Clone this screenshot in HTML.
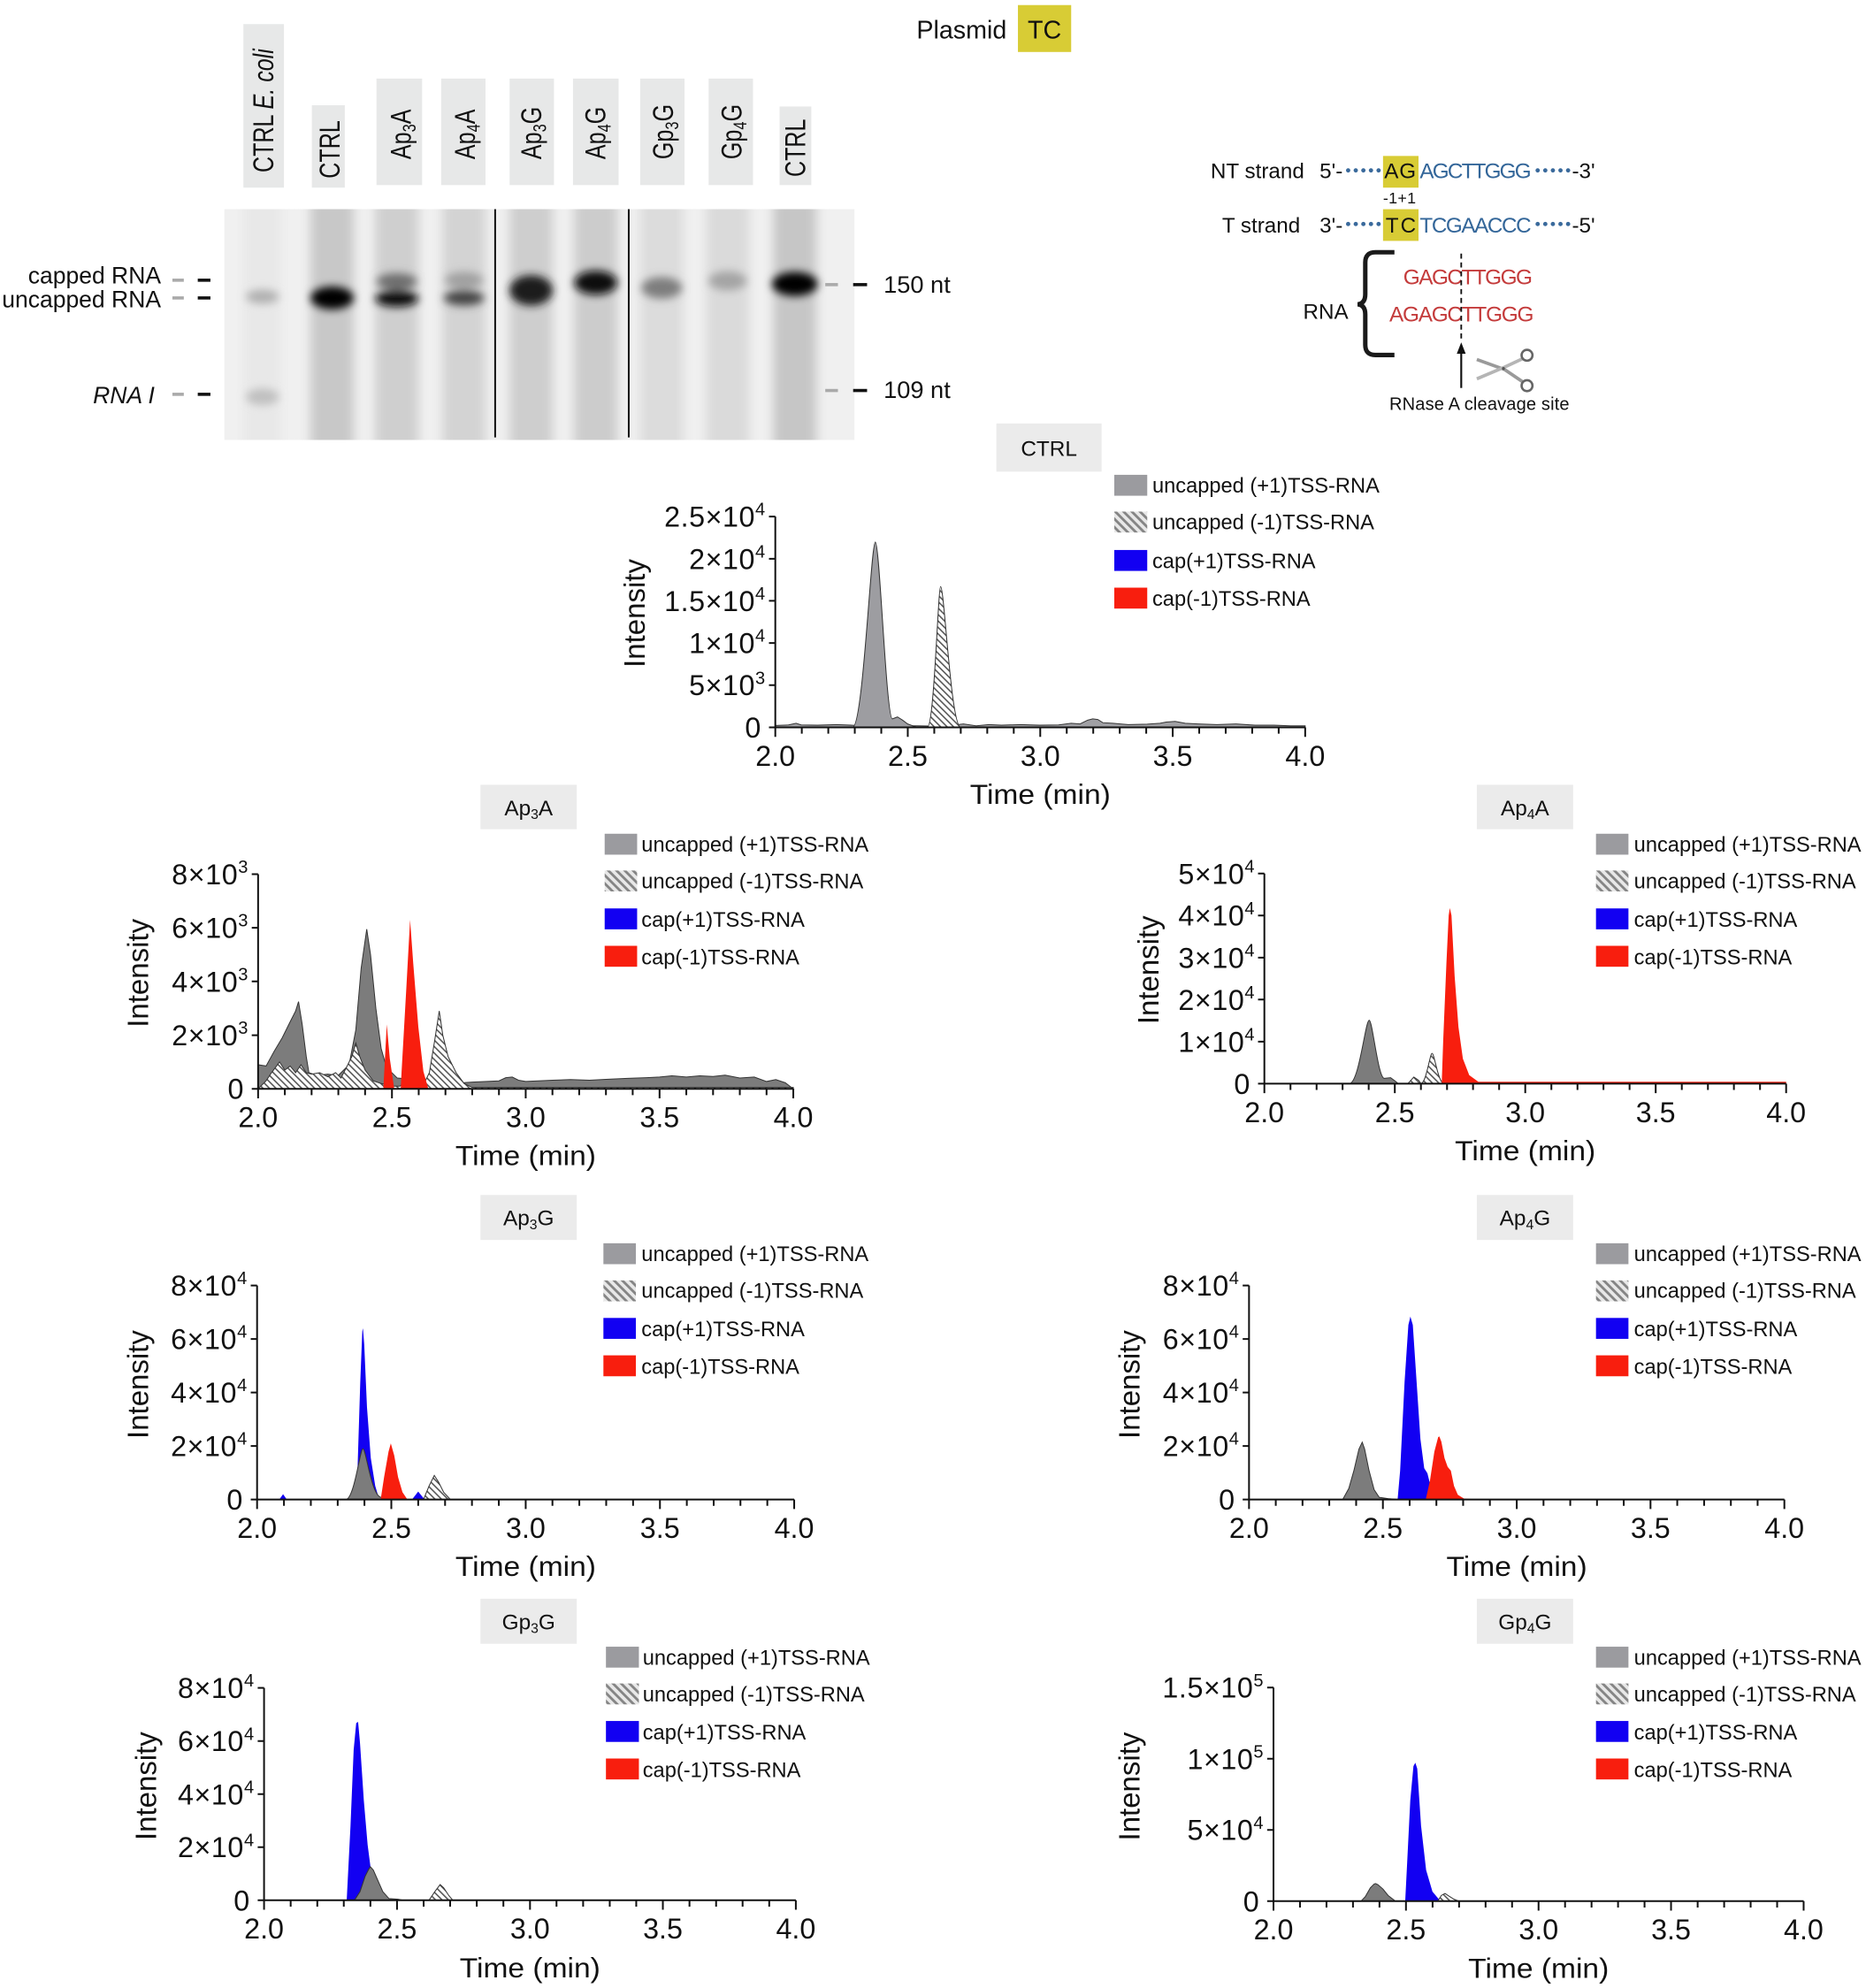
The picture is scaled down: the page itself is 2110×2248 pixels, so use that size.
<!DOCTYPE html>
<html><head><meta charset="utf-8">
<style>
html,body{margin:0;padding:0;background:#fff}
svg{display:block}
text{font-family:"Liberation Sans",Arial,sans-serif;fill:#111}
.yl{font-size:22.5px;text-anchor:end;letter-spacing:0.4px}
.xl{font-size:22.5px;text-anchor:middle}
.tt{font-size:22px;text-anchor:middle}
.it{font-size:23px;text-anchor:middle}
.lg{font-size:16.5px}
.ll{font-size:17.5px}
.ax{stroke:#111;stroke-width:1.4;fill:none}
.pk{stroke:#333;stroke-width:0.7}
.bl{fill:#1200f2}
.rd{fill:#f81e0e}
.gy{fill:#7c7c7c}
.ht{fill:url(#hatch)}
</style></head><body>
<svg width="2110" height="2248" viewBox="0 0 1472 1568" preserveAspectRatio="none" xmlns="http://www.w3.org/2000/svg">
<defs>
<pattern id="hatch" patternUnits="userSpaceOnUse" width="3.6" height="3.6" patternTransform="rotate(-45)"><rect width="3.6" height="3.6" fill="#fff"/><rect width="1.1" height="3.6" fill="#555"/></pattern>
<pattern id="hatchL" patternUnits="userSpaceOnUse" width="4.6" height="4.6" patternTransform="rotate(-45)"><rect width="4.6" height="4.6" fill="#e8e8e8"/><rect width="2" height="4.6" fill="#858585"/></pattern>
<filter id="b3" x="-50%" y="-50%" width="200%" height="200%"><feGaussianBlur stdDeviation="4"/></filter>
<filter id="b2" x="-50%" y="-50%" width="200%" height="200%"><feGaussianBlur stdDeviation="3.4"/></filter>
<clipPath id="gel"><rect x="177" y="165" width="497" height="182"/></clipPath>
</defs>

<!-- ===== Top: Plasmid TC ===== -->
<text x="723" y="30.5" font-size="20">Plasmid</text>
<rect x="803" y="4" width="42" height="37" fill="#d8cc35"/>
<text x="824" y="30.5" font-size="20" text-anchor="middle">TC</text>

<!-- ===== Lane labels ===== -->
<g fill="#e7e8e8">
<rect x="192" y="19" width="32" height="129"/>
<rect x="246" y="83" width="26" height="65"/>
<rect x="297" y="62" width="36" height="84"/>
<rect x="348" y="62" width="35" height="84"/>
<rect x="402" y="62" width="35" height="84"/>
<rect x="452" y="62" width="36" height="84"/>
<rect x="505" y="62" width="35" height="84"/>
<rect x="559" y="62" width="35" height="84"/>
<rect x="615" y="84" width="25" height="62"/>
</g>
<text class="ll" transform="translate(215.5,136) rotate(-90) scale(1,1.3)">CTRL <tspan font-style="italic">E. coli</tspan></text>
<text class="ll" transform="translate(268,140.7) rotate(-90) scale(1,1.3)">CTRL</text>
<text class="ll" transform="translate(324,125.6) rotate(-90) scale(1,1.3)">Ap<tspan font-size="11.5" dy="3">3</tspan><tspan dy="-3">A</tspan></text>
<text class="ll" transform="translate(374.5,125.6) rotate(-90) scale(1,1.3)">Ap<tspan font-size="11.5" dy="3">4</tspan><tspan dy="-3">A</tspan></text>
<text class="ll" transform="translate(426.8,125.6) rotate(-90) scale(1,1.3)">Ap<tspan font-size="11.5" dy="3">3</tspan><tspan dy="-3">G</tspan></text>
<text class="ll" transform="translate(477.7,125.6) rotate(-90) scale(1,1.3)">Ap<tspan font-size="11.5" dy="3">4</tspan><tspan dy="-3">G</tspan></text>
<text class="ll" transform="translate(531,125.6) rotate(-90) scale(1,1.3)">Gp<tspan font-size="11.5" dy="3">3</tspan><tspan dy="-3">G</tspan></text>
<text class="ll" transform="translate(585,125.6) rotate(-90) scale(1,1.3)">Gp<tspan font-size="11.5" dy="3">4</tspan><tspan dy="-3">G</tspan></text>
<text class="ll" transform="translate(635.3,139.5) rotate(-90) scale(1,1.3)">CTRL</text>

<!-- ===== Gel ===== -->
<g clip-path="url(#gel)">
<rect x="170" y="160" width="510" height="195" fill="#f0f0f0"/>
<g filter="url(#b3)">
<rect x="192" y="150" width="30" height="210" fill="#e8e8e8"/>
<rect x="245" y="150" width="34" height="210" fill="#c8c8c8"/>
<rect x="296" y="150" width="34" height="210" fill="#cfcfcf"/>
<rect x="349" y="150" width="34" height="210" fill="#d3d3d3"/>
<rect x="402" y="150" width="34" height="210" fill="#cecece"/>
<rect x="453" y="150" width="34" height="210" fill="#cccccc"/>
<rect x="505" y="150" width="34" height="210" fill="#dcdcdc"/>
<rect x="557" y="150" width="34" height="210" fill="#dadada"/>
<rect x="610" y="150" width="34" height="210" fill="#c6c6c6"/>
</g>
<g filter="url(#b2)">
<ellipse cx="207" cy="234" rx="13" ry="5.5" fill="#b0b0b0"/>
<ellipse cx="207" cy="313" rx="13" ry="6.5" fill="#c0c0c0"/>
<ellipse cx="262" cy="235" rx="17" ry="9" fill="#000"/>
<ellipse cx="313" cy="222" rx="16" ry="6.5" fill="#6e6e6e"/>
<ellipse cx="313" cy="235.5" rx="17" ry="6.5" fill="#0d0d0d"/>
<ellipse cx="366" cy="221" rx="15" ry="6.5" fill="#a0a0a0"/>
<ellipse cx="366" cy="235" rx="16" ry="6" fill="#444"/>
<ellipse cx="419" cy="229" rx="17" ry="12" fill="#1c1c1c"/>
<ellipse cx="470" cy="223" rx="17" ry="9.5" fill="#0a0a0a"/>
<ellipse cx="522" cy="227" rx="16" ry="8.5" fill="#7e7e7e"/>
<ellipse cx="574" cy="221.5" rx="15" ry="7.5" fill="#a4a4a4"/>
<ellipse cx="627" cy="224" rx="18" ry="9.5" fill="#000"/>
</g>
</g>
<line x1="390.6" y1="165" x2="390.6" y2="345" stroke="#111" stroke-width="1.4"/>
<line x1="496" y1="165" x2="496" y2="345" stroke="#111" stroke-width="1.4"/>

<!-- gel side labels -->
<text x="127" y="223.5" font-size="18.5" text-anchor="end">capped RNA</text>
<text x="127" y="242.5" font-size="18.5" text-anchor="end">uncapped RNA</text>
<text x="122" y="318" font-size="18.5" text-anchor="end" font-style="italic">RNA I</text>
<g stroke-width="2.5">
<line x1="136" y1="221" x2="145" y2="221" stroke="#aaa"/><line x1="156" y1="221" x2="166" y2="221" stroke="#111"/>
<line x1="136" y1="235" x2="145" y2="235" stroke="#aaa"/><line x1="156" y1="235" x2="166" y2="235" stroke="#111"/>
<line x1="136" y1="311" x2="145" y2="311" stroke="#aaa"/><line x1="156" y1="311" x2="166" y2="311" stroke="#111"/>
<line x1="651" y1="224.5" x2="661" y2="224.5" stroke="#aaa"/><line x1="673" y1="224.5" x2="684" y2="224.5" stroke="#111"/>
<line x1="651" y1="308" x2="661" y2="308" stroke="#aaa"/><line x1="673" y1="308" x2="684" y2="308" stroke="#111"/>
</g>
<text x="697" y="231" font-size="19">150 nt</text>
<text x="697" y="314" font-size="19">109 nt</text>

<!-- ===== Schematic ===== -->
<text x="955" y="140.5" font-size="16.9">NT strand</text>
<text x="1041" y="140.5" font-size="16.9">5'-</text>
<g fill="#3a6a9c">
<circle cx="1063.5" cy="134.4" r="1.7"/><circle cx="1069.5" cy="134.4" r="1.7"/><circle cx="1075.5" cy="134.4" r="1.7"/><circle cx="1081.5" cy="134.4" r="1.7"/><circle cx="1087.5" cy="134.4" r="1.7"/>
<circle cx="1213" cy="134.4" r="1.7"/><circle cx="1219" cy="134.4" r="1.7"/><circle cx="1225" cy="134.4" r="1.7"/><circle cx="1231" cy="134.4" r="1.7"/><circle cx="1237" cy="134.4" r="1.7"/>
<circle cx="1063.5" cy="176.7" r="1.7"/><circle cx="1069.5" cy="176.7" r="1.7"/><circle cx="1075.5" cy="176.7" r="1.7"/><circle cx="1081.5" cy="176.7" r="1.7"/><circle cx="1087.5" cy="176.7" r="1.7"/>
<circle cx="1213" cy="176.7" r="1.7"/><circle cx="1219" cy="176.7" r="1.7"/><circle cx="1225" cy="176.7" r="1.7"/><circle cx="1231" cy="176.7" r="1.7"/><circle cx="1237" cy="176.7" r="1.7"/>
</g>
<rect x="1091" y="123" width="28" height="25" fill="#d8cc35"/>
<text x="1092" y="140.5" font-size="16.9" textLength="25">AG</text>
<text x="1120" y="140.5" font-size="16.9" style="fill:#336699" textLength="88">AGCTTGGG</text>
<text x="1240" y="140.5" font-size="16.9">-3'</text>
<text x="1091" y="160.5" font-size="12.5" textLength="26">-1+1</text>
<text x="964" y="183.5" font-size="16.9">T strand</text>
<text x="1041" y="183.5" font-size="16.9">3'-</text>
<rect x="1091" y="165" width="28" height="25" fill="#d8cc35"/>
<text x="1093" y="183.5" font-size="16.9" textLength="24">TC</text>
<text x="1120" y="183.5" font-size="16.9" style="fill:#336699" textLength="88">TCGAACCC</text>
<text x="1240" y="183.5" font-size="16.9">-5'</text>
<path d="M1100,199 L1085,199 Q1077,199 1077,207 L1077,232 Q1077,239.5 1071,240 Q1077,240.5 1077,248 L1077,272 Q1077,280 1085,280 L1100,280" fill="none" stroke="#1a1a1a" stroke-width="3.5"/>
<text x="1028" y="251.5" font-size="16.9">RNA</text>
<text x="1107" y="224.4" font-size="17" style="fill:#c43b3b" textLength="102">GAGCTTGGG</text>
<text x="1096" y="253.5" font-size="17" style="fill:#c43b3b" textLength="114">AGAGCTTGGG</text>
<line x1="1152.7" y1="200" x2="1152.7" y2="268" stroke="#111" stroke-width="1.3" stroke-dasharray="4 3"/>
<line x1="1152.7" y1="306" x2="1152.7" y2="277" stroke="#111" stroke-width="1.5"/>
<polygon points="1152.7,270 1149.2,279 1156.2,279" fill="#111"/>
<g>
<path d="M1165,283.5 L1187,291.5 L1201,301" stroke="#9a9a9a" stroke-width="2.6" fill="none"/>
<path d="M1165,298.8 L1187,289.5 L1201,283" stroke="#b5b5b5" stroke-width="2.6" fill="none"/>
<circle cx="1204.6" cy="280.2" r="4.3" fill="none" stroke="#666" stroke-width="1.8"/>
<circle cx="1204.6" cy="304.2" r="4.3" fill="none" stroke="#666" stroke-width="1.8"/>
<circle cx="1186" cy="290.7" r="1.2" fill="#555"/>
</g>
<text x="1096" y="323.2" font-size="14" textLength="142">RNase A cleavage site</text>

<!-- ===================== CTRL chart ===================== -->
<rect x="786" y="334" width="83" height="38" fill="#ebebeb"/>
<text x="827.5" y="359.5" font-size="17" text-anchor="middle">CTRL</text>
<rect x="879" y="374.5" width="26" height="16.5" fill="#9b9b9f"/>
<rect x="879" y="403.5" width="26" height="16.5" fill="url(#hatchL)"/>
<rect x="879" y="433.8" width="26" height="16.5" fill="#1200f2"/>
<rect x="879" y="463.5" width="26" height="16.5" fill="#f81e0e"/>
<text class="lg" x="909" y="388.5">uncapped (+1)TSS-RNA</text>
<text class="lg" x="909" y="417.6">uncapped (-1)TSS-RNA</text>
<text class="lg" x="909" y="448">cap(+1)TSS-RNA</text>
<text class="lg" x="909" y="477.7">cap(-1)TSS-RNA</text>
<path class="pk" fill="#a0a0a4" d="M611.6,573.7 L611.6,572.2 L622,571.8 L628,570.5 L632,571.8 L645,572 L660,571.5 L672,572 L724,572.5 L745,572.8 L760,571 L770,572.5 L780,571.5 L790,572 L805,571.5 L820,572 L835,571.8 L845,570.5 L852,571 L858,568 L862,567 L866,567.5 L870,570 L878,570.5 L890,571.5 L905,571.2 L915,570.5 L920,569.5 L927,569 L935,570.5 L945,571 L960,571.5 L975,571 L990,572 L1005,572 L1018,572.5 L1029.6,572.5 L1029.6,573.7 Z"/>
<path class="pk" fill="#9d9da1" d="M672.5,573.7 C681,573.7 687,427.5 690.5,427.5 C694,427.5 699,567 704,567 L708,565.5 L712,568 L716,571 L720,572.5 L724,573.7 Z"/>
<path class="pk ht" d="M731.5,573.7 C737,573.7 740,462.6 742,462.6 C745,462.6 750,573.7 758,573.7 Z"/>
<path class="ax" d="M611.6 407.4V581.2M606.6 573.7H1029.6M606.6 407.4H611.6M606.6 440.7H611.6M606.6 473.9H611.6M606.6 507.2H611.6M606.6 540.4H611.6M716.1 573.7v7.5M820.6 573.7v7.5M925.1 573.7v7.5M1029.6 573.7v7.5M632.5 573.7v5M653.4 573.7v5M674.3 573.7v5M695.2 573.7v5M737 573.7v5M757.9 573.7v5M778.8 573.7v5M799.7 573.7v5M841.5 573.7v5M862.4 573.7v5M883.3 573.7v5M904.2 573.7v5M946 573.7v5M966.9 573.7v5M987.8 573.7v5M1008.7 573.7v5"/>
<text class="yl" x="600.6" y="581.7">0</text>
<text class="yl" x="604" y="548.4">5×10<tspan dy="-9" font-size="14">3</tspan></text>
<text class="yl" x="604" y="515.2">1×10<tspan dy="-9" font-size="14">4</tspan></text>
<text class="yl" x="604" y="481.9">1.5×10<tspan dy="-9" font-size="14">4</tspan></text>
<text class="yl" x="604" y="448.7">2×10<tspan dy="-9" font-size="14">4</tspan></text>
<text class="yl" x="604" y="415.4">2.5×10<tspan dy="-9" font-size="14">4</tspan></text>
<text class="xl" x="611.6" y="604">2.0</text>
<text class="xl" x="716.1" y="604">2.5</text>
<text class="xl" x="820.6" y="604">3.0</text>
<text class="xl" x="925.1" y="604">3.5</text>
<text class="xl" x="1029.6" y="604">4.0</text>
<text class="tt" x="820.6" y="634" textLength="111" lengthAdjust="spacingAndGlyphs">Time (min)</text>
<text class="it" transform="translate(508.5,483.7) rotate(-90)">Intensity</text>

<!-- ===================== Ap3A chart ===================== -->
<rect x="379" y="619" width="76" height="35" fill="#ebebeb"/>
<text x="417" y="643" font-size="17" text-anchor="middle">Ap<tspan font-size="11" dy="3">3</tspan><tspan dy="-3">A</tspan></text>
<rect x="477" y="657.6" width="25.6" height="16.5" fill="#9b9b9f"/>
<rect x="477" y="686.6" width="25.6" height="16.5" fill="url(#hatchL)"/>
<rect x="477" y="716.5" width="25.6" height="16.5" fill="#1200f2"/>
<rect x="477" y="746" width="25.6" height="16.5" fill="#f81e0e"/>
<text class="lg" x="506" y="671.8">uncapped (+1)TSS-RNA</text>
<text class="lg" x="506" y="700.8">uncapped (-1)TSS-RNA</text>
<text class="lg" x="506" y="731">cap(+1)TSS-RNA</text>
<text class="lg" x="506" y="760.5">cap(-1)TSS-RNA</text>
<path class="pk gy" d="M203.6,858.8 L203.6,839.8 L209.9,840.8 L216.3,829.2 L222.6,818.6 L228.9,805.9 L233.2,797.4 L235.5,790 L238.4,808 L241.6,833.4 L243.7,846.1 L250,848.2 L258.5,847.2 L266.9,848.2 L275.4,839.8 L280.7,812.2 L284.9,763.6 L289.3,732.9 L292.3,753 L296.5,795.3 L300.7,827.1 L304.9,841.9 L313.4,850.3 L326,851.4 L338.7,852.5 L355.6,854.6 L372.5,853.5 L393.6,852.5 L399,850 L404.1,849.5 L409,852 L414.7,853 L435.8,852 L450,851.5 L465,852 L478,851.3 L495,850.5 L510,850 L520.3,849.5 L530,848.5 L541.4,849.5 L552,848.5 L562.5,849 L572,848 L583.6,850.3 L595,849.5 L604.7,853 L612,851.5 L619.5,854 L625.8,858.8 Z"/>
<path class="pk ht" d="M203.6,858.8 L209.9,852.5 L214.2,846.1 L220.5,837.6 L224.7,844 L228.9,840.8 L233.2,846.1 L237.4,839.8 L241.6,846.1 L245.8,847.2 L252.2,846.1 L258.5,849.3 L264.8,846.1 L269,850.3 L273.3,841.9 L277.5,833.4 L280.7,822.8 L283.8,833.4 L288,844 L294.4,852.5 L300.7,854.6 L309.2,856.7 L315.5,856.7 L321.8,851.4 L328.1,852.5 L334.5,854.6 L338.7,846.1 L342.9,820.7 L346.5,797.4 L349.3,816.5 L353.5,833.4 L359.8,846.1 L366.1,854.6 L372.5,857.7 L625.8,857.7 L625.8,858.8 Z"/>
<path class="rd" d="M302.4,858.8 L305.1,808 L307.5,835 L311,858.8 Z"/>
<path class="rd" d="M316.1,858.8 L316.8,845 L320.5,780 L323.5,725.5 L326,760 L330,810 L334,845 L337.9,858.8 Z"/>
<path class="ax" d="M203.6 689.5V866.3M198.6 858.8H625.8M198.6 689.5H203.6M198.6 731.8H203.6M198.6 774.1H203.6M198.6 816.5H203.6M309.2 858.8v7.5M414.7 858.8v7.5M520.3 858.8v7.5M625.8 858.8v7.5M224.7 858.8v5M245.8 858.8v5M266.9 858.8v5M288 858.8v5M330.3 858.8v5M351.4 858.8v5M372.5 858.8v5M393.6 858.8v5M435.8 858.8v5M456.9 858.8v5M478 858.8v5M499.1 858.8v5M541.4 858.8v5M562.5 858.8v5M583.6 858.8v5M604.7 858.8v5"/>
<text class="yl" x="192.6" y="866.8">0</text>
<text class="yl" x="196" y="824.5">2×10<tspan dy="-9" font-size="14">3</tspan></text>
<text class="yl" x="196" y="782.1">4×10<tspan dy="-9" font-size="14">3</tspan></text>
<text class="yl" x="196" y="739.8">6×10<tspan dy="-9" font-size="14">3</tspan></text>
<text class="yl" x="196" y="697.5">8×10<tspan dy="-9" font-size="14">3</tspan></text>
<text class="xl" x="203.6" y="889">2.0</text>
<text class="xl" x="309.2" y="889">2.5</text>
<text class="xl" x="414.7" y="889">3.0</text>
<text class="xl" x="520.3" y="889">3.5</text>
<text class="xl" x="625.8" y="889">4.0</text>
<text class="tt" x="414.7" y="919" textLength="111" lengthAdjust="spacingAndGlyphs">Time (min)</text>
<text class="it" transform="translate(117,767.5) rotate(-90)">Intensity</text>

<!-- ===================== Ap4A chart ===================== -->
<rect x="1165" y="619" width="76" height="35" fill="#ebebeb"/>
<text x="1203" y="643" font-size="17" text-anchor="middle">Ap<tspan font-size="11" dy="3">4</tspan><tspan dy="-3">A</tspan></text>
<rect x="1259" y="657.6" width="25.6" height="16.5" fill="#9b9b9f"/>
<rect x="1259" y="686.6" width="25.6" height="16.5" fill="url(#hatchL)"/>
<rect x="1259" y="716.5" width="25.6" height="16.5" fill="#1200f2"/>
<rect x="1259" y="746" width="25.6" height="16.5" fill="#f81e0e"/>
<text class="lg" x="1289" y="671.8">uncapped (+1)TSS-RNA</text>
<text class="lg" x="1289" y="700.8">uncapped (-1)TSS-RNA</text>
<text class="lg" x="1289" y="731">cap(+1)TSS-RNA</text>
<text class="lg" x="1289" y="760.5">cap(-1)TSS-RNA</text>
<path class="pk gy" d="M1064.3,854.7 C1072.2,854.7 1077,804.7 1080.1,804.7 C1082.7,804.7 1087,850 1092,850.5 L1097,850 L1101,853 L1103,854.7 Z"/>
<path class="pk ht" d="M1110.6,854.7 L1115.3,849.5 L1119,852 L1121,854.7 Z"/>
<path class="pk ht" d="M1120.7,854.7 C1125.2,854.7 1127.9,830.8 1129.7,830.8 C1131.6,830.8 1134.5,854.7 1139.2,854.7 Z"/>
<path class="rd" d="M1137.3,854.7 L1138.5,820 L1141,760 L1142.8,722 L1143.7,716.2 L1145,722 L1147.5,770 L1150.5,810 L1154,835 L1159,848 L1166.2,853.2 L1409,853.2 L1409,854.7 Z"/>
<path class="ax" d="M997.4 689V862.2M992.4 854.7H1409M992.4 689H997.4M992.4 722.1H997.4M992.4 755.3H997.4M992.4 788.4H997.4M992.4 821.6H997.4M1100.3 854.7v7.5M1203.2 854.7v7.5M1306.1 854.7v7.5M1409 854.7v7.5M1018 854.7v5M1038.6 854.7v5M1059.1 854.7v5M1079.7 854.7v5M1120.9 854.7v5M1141.5 854.7v5M1162 854.7v5M1182.6 854.7v5M1223.8 854.7v5M1244.4 854.7v5M1264.9 854.7v5M1285.5 854.7v5M1326.7 854.7v5M1347.3 854.7v5M1367.8 854.7v5M1388.4 854.7v5"/>
<text class="yl" x="986.4" y="862.7">0</text>
<text class="yl" x="990" y="829.6">1×10<tspan dy="-9" font-size="14">4</tspan></text>
<text class="yl" x="990" y="796.4">2×10<tspan dy="-9" font-size="14">4</tspan></text>
<text class="yl" x="990" y="763.3">3×10<tspan dy="-9" font-size="14">4</tspan></text>
<text class="yl" x="990" y="730.1">4×10<tspan dy="-9" font-size="14">4</tspan></text>
<text class="yl" x="990" y="697">5×10<tspan dy="-9" font-size="14">4</tspan></text>
<text class="xl" x="997.4" y="885">2.0</text>
<text class="xl" x="1100.3" y="885">2.5</text>
<text class="xl" x="1203.2" y="885">3.0</text>
<text class="xl" x="1306.1" y="885">3.5</text>
<text class="xl" x="1409" y="885">4.0</text>
<text class="tt" x="1203.2" y="915" textLength="111" lengthAdjust="spacingAndGlyphs">Time (min)</text>
<text class="it" transform="translate(914,765) rotate(-90)">Intensity</text>

<!-- ===================== Ap3G chart ===================== -->
<rect x="379" y="942.5" width="76" height="35.5" fill="#ebebeb"/>
<text x="417" y="966.5" font-size="17" text-anchor="middle">Ap<tspan font-size="11" dy="3">3</tspan><tspan dy="-3">G</tspan></text>
<rect x="476" y="980.6" width="25.6" height="16.5" fill="#9b9b9f"/>
<rect x="476" y="1009.9" width="25.6" height="16.5" fill="url(#hatchL)"/>
<rect x="476" y="1039.5" width="25.6" height="16.5" fill="#1200f2"/>
<rect x="476" y="1069" width="25.6" height="16.5" fill="#f81e0e"/>
<text class="lg" x="506" y="994.5">uncapped (+1)TSS-RNA</text>
<text class="lg" x="506" y="1023.7">uncapped (-1)TSS-RNA</text>
<text class="lg" x="506" y="1054">cap(+1)TSS-RNA</text>
<text class="lg" x="506" y="1083.5">cap(-1)TSS-RNA</text>
<path class="bl" d="M220.3,1182.7 L223.3,1178.5 L226.3,1182.7 Z"/>
<path class="bl" d="M280.8,1182.7 L282,1160 L284.2,1090 L285.8,1050 L286.3,1047.7 L287.3,1060 L289.5,1110 L292.5,1150 L296,1172 L299.2,1182.7 Z"/>
<path class="bl" d="M325,1182.7 L329.9,1176.4 L335,1182.7 Z"/>
<path class="pk gy" d="M272.7,1182.7 C279.5,1182.7 284,1142.6 286.3,1142.6 C288.8,1142.6 293,1181 301,1181 L310,1182 L318,1182.7 Z"/>
<path class="rd" d="M300.3,1182.7 L303,1165 L306.5,1145 L308.3,1138.4 L311,1148 L314,1165 L317.5,1177 L321.4,1182.7 Z"/>
<path class="pk ht" d="M334.1,1182.7 L338.5,1172 L342.6,1163.7 L346,1169 L350,1177 L355.3,1182.7 Z"/>
<path class="ax" d="M202.8 1013.9V1190.2M197.8 1182.7H626.5M197.8 1013.9H202.8M197.8 1056.1H202.8M197.8 1098.3H202.8M197.8 1140.5H202.8M308.7 1182.7v7.5M414.7 1182.7v7.5M520.6 1182.7v7.5M626.5 1182.7v7.5M224 1182.7v5M245.2 1182.7v5M266.4 1182.7v5M287.5 1182.7v5M329.9 1182.7v5M351.1 1182.7v5M372.3 1182.7v5M393.5 1182.7v5M435.8 1182.7v5M457 1182.7v5M478.2 1182.7v5M499.4 1182.7v5M541.8 1182.7v5M563 1182.7v5M584.1 1182.7v5M605.3 1182.7v5"/>
<text class="yl" x="191.8" y="1190.7">0</text>
<text class="yl" x="195.2" y="1148.5">2×10<tspan dy="-9" font-size="14">4</tspan></text>
<text class="yl" x="195.2" y="1106.3">4×10<tspan dy="-9" font-size="14">4</tspan></text>
<text class="yl" x="195.2" y="1064.1">6×10<tspan dy="-9" font-size="14">4</tspan></text>
<text class="yl" x="195.2" y="1021.9">8×10<tspan dy="-9" font-size="14">4</tspan></text>
<text class="xl" x="202.8" y="1213">2.0</text>
<text class="xl" x="308.7" y="1213">2.5</text>
<text class="xl" x="414.7" y="1213">3.0</text>
<text class="xl" x="520.6" y="1213">3.5</text>
<text class="xl" x="626.5" y="1213">4.0</text>
<text class="tt" x="414.7" y="1243" textLength="111" lengthAdjust="spacingAndGlyphs">Time (min)</text>
<text class="it" transform="translate(117,1092) rotate(-90)">Intensity</text>

<!-- ===================== Ap4G chart ===================== -->
<rect x="1165" y="942.5" width="76" height="35.5" fill="#ebebeb"/>
<text x="1203" y="966.5" font-size="17" text-anchor="middle">Ap<tspan font-size="11" dy="3">4</tspan><tspan dy="-3">G</tspan></text>
<rect x="1259" y="980.6" width="25.6" height="16.5" fill="#9b9b9f"/>
<rect x="1259" y="1009.9" width="25.6" height="16.5" fill="url(#hatchL)"/>
<rect x="1259" y="1039.5" width="25.6" height="16.5" fill="#1200f2"/>
<rect x="1259" y="1069" width="25.6" height="16.5" fill="#f81e0e"/>
<text class="lg" x="1289" y="994.5">uncapped (+1)TSS-RNA</text>
<text class="lg" x="1289" y="1023.7">uncapped (-1)TSS-RNA</text>
<text class="lg" x="1289" y="1054">cap(+1)TSS-RNA</text>
<text class="lg" x="1289" y="1083.5">cap(-1)TSS-RNA</text>
<path class="pk gy" d="M1059.2,1182.7 L1064,1174 L1068,1160 L1072,1143 L1074.6,1137.5 L1076.5,1143 L1080,1160 L1084,1175 L1088,1181 L1095,1182 L1103,1182.7 Z"/>
<path class="bl" d="M1102.5,1182.7 L1104.5,1160 L1108,1090 L1111,1045 L1112.6,1038.4 L1114.5,1045 L1117.5,1090 L1120.5,1135 L1123.5,1158 L1126,1162 L1128.5,1172 L1131,1182.7 Z"/>
<path class="rd" d="M1124.7,1182.7 L1128,1168 L1131.5,1145 L1134.5,1133.5 L1135.4,1132.9 L1137,1137 L1139.5,1150 L1142,1157 L1144.5,1160 L1147,1172 L1150,1179 L1155,1182 L1170,1182.7 Z"/>
<path class="ax" d="M985.3 1013.9V1190.2M980.3 1182.7H1407.6M980.3 1013.9H985.3M980.3 1056.1H985.3M980.3 1098.3H985.3M980.3 1140.5H985.3M1090.9 1182.7v7.5M1196.5 1182.7v7.5M1302 1182.7v7.5M1407.6 1182.7v7.5M1006.4 1182.7v5M1027.5 1182.7v5M1048.6 1182.7v5M1069.8 1182.7v5M1112 1182.7v5M1133.1 1182.7v5M1154.2 1182.7v5M1175.3 1182.7v5M1217.6 1182.7v5M1238.7 1182.7v5M1259.8 1182.7v5M1280.9 1182.7v5M1323.1 1182.7v5M1344.3 1182.7v5M1365.4 1182.7v5M1386.5 1182.7v5"/>
<text class="yl" x="974.3" y="1190.7">0</text>
<text class="yl" x="977.7" y="1148.5">2×10<tspan dy="-9" font-size="14">4</tspan></text>
<text class="yl" x="977.7" y="1106.3">4×10<tspan dy="-9" font-size="14">4</tspan></text>
<text class="yl" x="977.7" y="1064.1">6×10<tspan dy="-9" font-size="14">4</tspan></text>
<text class="yl" x="977.7" y="1021.9">8×10<tspan dy="-9" font-size="14">4</tspan></text>
<text class="xl" x="985.3" y="1213">2.0</text>
<text class="xl" x="1090.9" y="1213">2.5</text>
<text class="xl" x="1196.5" y="1213">3.0</text>
<text class="xl" x="1302" y="1213">3.5</text>
<text class="xl" x="1407.6" y="1213">4.0</text>
<text class="tt" x="1196.5" y="1243" textLength="111" lengthAdjust="spacingAndGlyphs">Time (min)</text>
<text class="it" transform="translate(899,1092) rotate(-90)">Intensity</text>

<!-- ===================== Gp3G chart ===================== -->
<rect x="379" y="1261" width="76" height="35.5" fill="#ebebeb"/>
<text x="417" y="1285" font-size="17" text-anchor="middle">Gp<tspan font-size="11" dy="3">3</tspan><tspan dy="-3">G</tspan></text>
<rect x="478" y="1298.8" width="26" height="16.5" fill="#9b9b9f"/>
<rect x="478" y="1327.8" width="26" height="16.5" fill="url(#hatchL)"/>
<rect x="478" y="1357.4" width="26" height="16.5" fill="#1200f2"/>
<rect x="478" y="1387" width="26" height="16.5" fill="#f81e0e"/>
<text class="lg" x="507" y="1312.9">uncapped (+1)TSS-RNA</text>
<text class="lg" x="507" y="1341.9">uncapped (-1)TSS-RNA</text>
<text class="lg" x="507" y="1372.1">cap(+1)TSS-RNA</text>
<text class="lg" x="507" y="1401.8">cap(-1)TSS-RNA</text>
<path class="bl" d="M273.5,1498.8 L276.5,1440 L279,1380 L281,1359 L282.5,1358.1 L284,1375 L287,1420 L290,1455 L293,1478 L296.4,1492 L300,1498.8 Z"/>
<path class="pk gy" d="M279.6,1498.8 L284,1492 L288,1480 L291,1474 L292.2,1472.4 L294.5,1475 L298,1483 L302,1492 L306.9,1497.5 L314,1498 L318,1498.8 Z"/>
<path class="pk ht" d="M338.4,1498.8 L343,1492 L347.2,1486.4 L350,1489 L354,1495 L357.2,1498.8 Z"/>
<path class="ax" d="M208.3 1331.3V1506.3M203.3 1498.8H627.8M203.3 1331.3H208.3M203.3 1373.2H208.3M203.3 1415.1H208.3M203.3 1456.9H208.3M313.2 1498.8v7.5M418.1 1498.8v7.5M522.9 1498.8v7.5M627.8 1498.8v7.5M229.3 1498.8v5M250.3 1498.8v5M271.2 1498.8v5M292.2 1498.8v5M334.2 1498.8v5M355.1 1498.8v5M376.1 1498.8v5M397.1 1498.8v5M439 1498.8v5M460 1498.8v5M481 1498.8v5M501.9 1498.8v5M543.9 1498.8v5M564.9 1498.8v5M585.8 1498.8v5M606.8 1498.8v5"/>
<text class="yl" x="197.3" y="1506.8">0</text>
<text class="yl" x="200.7" y="1464.9">2×10<tspan dy="-9" font-size="14">4</tspan></text>
<text class="yl" x="200.7" y="1423.1">4×10<tspan dy="-9" font-size="14">4</tspan></text>
<text class="yl" x="200.7" y="1381.2">6×10<tspan dy="-9" font-size="14">4</tspan></text>
<text class="yl" x="200.7" y="1339.3">8×10<tspan dy="-9" font-size="14">4</tspan></text>
<text class="xl" x="208.3" y="1529">2.0</text>
<text class="xl" x="313.2" y="1529">2.5</text>
<text class="xl" x="418.1" y="1529">3.0</text>
<text class="xl" x="522.9" y="1529">3.5</text>
<text class="xl" x="627.8" y="1529">4.0</text>
<text class="tt" x="418.1" y="1559.5" textLength="111" lengthAdjust="spacingAndGlyphs">Time (min)</text>
<text class="it" transform="translate(123,1408.7) rotate(-90)">Intensity</text>

<!-- ===================== Gp4G chart ===================== -->
<rect x="1165" y="1261" width="76" height="35.5" fill="#ebebeb"/>
<text x="1203" y="1285" font-size="17" text-anchor="middle">Gp<tspan font-size="11" dy="3">4</tspan><tspan dy="-3">G</tspan></text>
<rect x="1259" y="1298.8" width="25.6" height="16.5" fill="#9b9b9f"/>
<rect x="1259" y="1327.8" width="25.6" height="16.5" fill="url(#hatchL)"/>
<rect x="1259" y="1357.4" width="25.6" height="16.5" fill="#1200f2"/>
<rect x="1259" y="1387" width="25.6" height="16.5" fill="#f81e0e"/>
<text class="lg" x="1289" y="1312.9">uncapped (+1)TSS-RNA</text>
<text class="lg" x="1289" y="1341.9">uncapped (-1)TSS-RNA</text>
<text class="lg" x="1289" y="1372.1">cap(+1)TSS-RNA</text>
<text class="lg" x="1289" y="1401.8">cap(-1)TSS-RNA</text>
<path class="pk gy" d="M1073.6,1499.5 L1077,1496 L1081,1489 L1084,1486 L1085.1,1485.6 L1087,1486.5 L1091,1490 L1095,1495 L1100.8,1499.5 Z"/>
<path class="bl" d="M1108.5,1499.5 L1110,1470 L1112.5,1420 L1115,1393 L1116.5,1390.3 L1118,1395 L1121,1440 L1125,1475 L1130,1492 L1136.3,1499.5 Z"/>
<path class="pk ht" d="M1134.2,1499.5 L1137,1495 L1139.9,1493.4 L1143,1495.5 L1147,1498 L1151,1499.5 Z"/>
<path class="ax" d="M1004.6 1331V1507M999.6 1499.5H1422.8M999.6 1331H1004.6M999.6 1387.2H1004.6M999.6 1443.3H1004.6M1109.1 1499.5v7.5M1213.7 1499.5v7.5M1318.2 1499.5v7.5M1422.8 1499.5v7.5M1025.5 1499.5v5M1046.4 1499.5v5M1067.3 1499.5v5M1088.2 1499.5v5M1130.1 1499.5v5M1151 1499.5v5M1171.9 1499.5v5M1192.8 1499.5v5M1234.6 1499.5v5M1255.5 1499.5v5M1276.4 1499.5v5M1297.3 1499.5v5M1339.2 1499.5v5M1360.1 1499.5v5M1381 1499.5v5M1401.9 1499.5v5"/>
<text class="yl" x="993.6" y="1507.5">0</text>
<text class="yl" x="997" y="1451.3">5×10<tspan dy="-9" font-size="14">4</tspan></text>
<text class="yl" x="997" y="1395.2">1×10<tspan dy="-9" font-size="14">5</tspan></text>
<text class="yl" x="997" y="1339">1.5×10<tspan dy="-9" font-size="14">5</tspan></text>
<text class="xl" x="1004.6" y="1529.5">2.0</text>
<text class="xl" x="1109.1" y="1529.5">2.5</text>
<text class="xl" x="1213.7" y="1529.5">3.0</text>
<text class="xl" x="1318.2" y="1529.5">3.5</text>
<text class="xl" x="1422.8" y="1529.5">4.0</text>
<text class="tt" x="1213.7" y="1560" textLength="111" lengthAdjust="spacingAndGlyphs">Time (min)</text>
<text class="it" transform="translate(899,1409) rotate(-90)">Intensity</text>
</svg>
</body></html>
